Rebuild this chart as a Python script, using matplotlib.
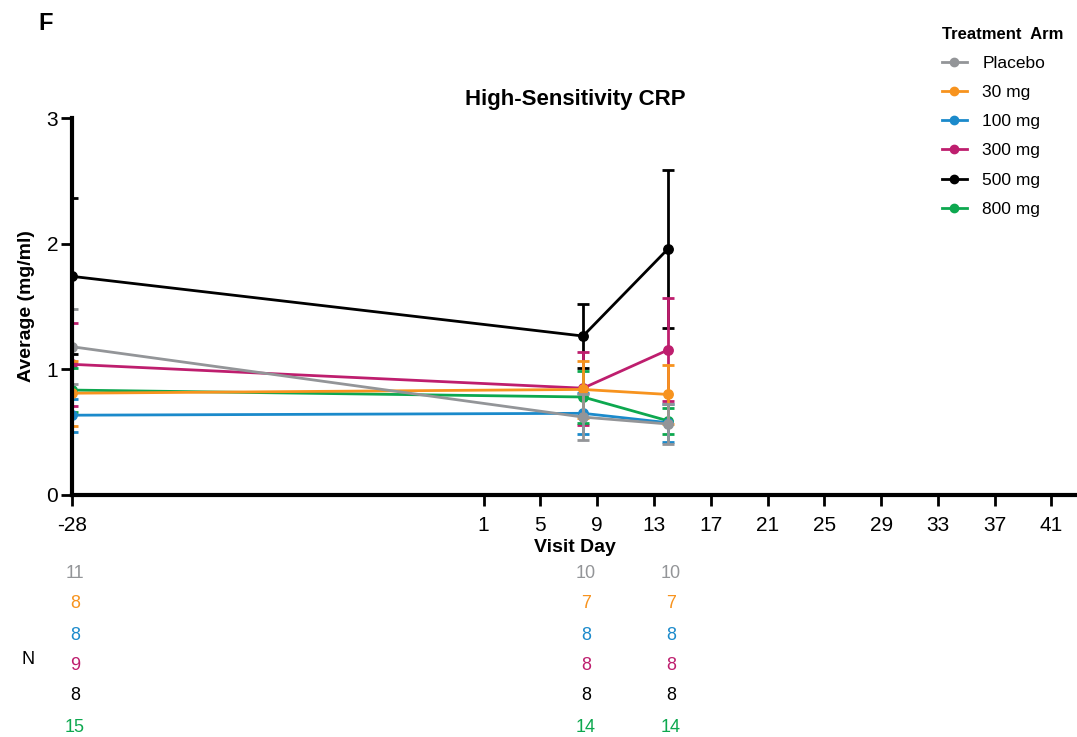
import matplotlib
matplotlib.use("Agg")
import matplotlib.pyplot as plt
from matplotlib.lines import Line2D
from matplotlib.transforms import blended_transform_factory

plt.rcParams['font.family'] = ['Liberation Sans', 'DejaVu Sans']

# ---- data ----
visit_days = [-28, 8, 14]
arms = ["Placebo", "30 mg", "100 mg", "300 mg", "500 mg", "800 mg"]
colors = ["#939598", "#F7931E", "#1B8ACB", "#BE1E6E", "#000000", "#0DA84F"]

mean_placebo = [1.18, 0.62, 0.565]
err_placebo = [0.30, 0.18, 0.16]
mean_30 = [0.81, 0.84, 0.80]
err_30 = [0.26, 0.225, 0.235]
mean_100 = [0.635, 0.65, 0.575]
err_100 = [0.13, 0.165, 0.15]
mean_300 = [1.04, 0.85, 1.155]
err_300 = [0.33, 0.29, 0.41]
mean_500 = [1.74, 1.265, 1.96]
err_500 = [0.62, 0.255, 0.63]
mean_800 = [0.835, 0.78, 0.59]
err_800 = [0.175, 0.21, 0.105]

n_placebo = [11, 10, 10]
n_30 = [8, 7, 7]
n_100 = [8, 8, 8]
n_300 = [9, 8, 8]
n_500 = [8, 8, 8]
n_800 = [15, 14, 14]

x_ticks = [-28, 1, 5, 9, 13, 17, 21, 25, 29, 33, 37, 41]
y_ticks = [0, 1, 2, 3]

means = [mean_placebo, mean_30, mean_100, mean_300, mean_500, mean_800]
errs = [err_placebo, err_30, err_100, err_300, err_500, err_800]
counts = [n_placebo, n_30, n_100, n_300, n_500, n_800]

# ---- figure ----
fig = plt.figure(figsize=(10.77, 7.37), dpi=100)
ax = fig.add_axes([72 / 1077, 242 / 737, 1005 / 1077, 377 / 737])

# drawing order (back to front)
draw_order = [4, 3, 5, 2, 1, 0]
for z, i in enumerate(draw_order):
    ax.errorbar(visit_days, means[i], yerr=errs[i], color=colors[i],
                marker='o', markersize=6.8, linewidth=2, elinewidth=2,
                capsize=4.5, capthick=2, zorder=3 + z)

ax.set_xlim(-28, 42.8)
ax.set_ylim(0, 3)
ax.set_xticks(x_ticks)
ax.set_xticklabels([str(t) for t in x_ticks], fontsize=15)
ax.set_yticks(y_ticks)
ax.set_yticklabels([str(t) for t in y_ticks], fontsize=15)

for s in ['top', 'right']:
    ax.spines[s].set_visible(False)
for s in ['left', 'bottom']:
    ax.spines[s].set_linewidth(3)
    ax.spines[s].set_zorder(20)
ax.tick_params(axis='both', direction='out', length=8, width=2)
ax.tick_params(axis='x', pad=7)
ax.tick_params(axis='y', pad=2)

ax.set_xlabel("Visit Day", fontsize=14, fontweight='bold', labelpad=3)
ax.set_ylabel("Average (mg/ml)", fontsize=14, fontweight='bold', labelpad=8)

fig.text(575 / 1077, 1 - 100 / 737, "High-Sensitivity CRP", fontsize=16,
         fontweight='bold', ha='center', va='center')
fig.text(38 / 1077, 1 - 24 / 737, "F", fontsize=17, fontweight='bold',
         ha='left', va='center')

# legend
handles = [Line2D([0], [0], color=c, marker='o', markersize=6, linewidth=2)
           for c in colors]
leg = fig.legend(handles, arms, title="Treatment  Arm", loc='upper left',
                 bbox_to_anchor=(926 / 1077, 1 - 11 / 737), frameon=False,
                 fontsize=12.5, title_fontproperties={'weight': 'bold', 'size': 12},
                 handlelength=1.45, handletextpad=0.9, labelspacing=0.81)
leg._legend_box.align = "left"

# N table below the axis
trans = blended_transform_factory(ax.transData, fig.transFigure)
row_y = [573, 604, 635, 666, 696, 727]
for i in range(len(arms)):
    for j, d in enumerate(visit_days):
        fig.text(d + 0.2, 1 - row_y[i] / 737, str(counts[i][j]), transform=trans,
                 color=colors[i], fontsize=13, ha='center', va='center')
fig.text(28 / 1077, 1 - 660 / 737, "N", fontsize=13, ha='center', va='center')

fig.savefig("out.png", dpi=100)
